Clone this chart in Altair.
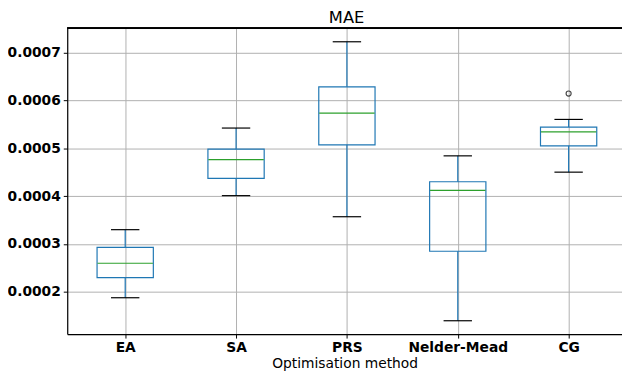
import altair as alt
import pandas as pd

methods = ["EA", "SA", "PRS", "Nelder-Mead", "CG"]
positions = [1, 2, 3, 4, 5]
whisker_low = [0.000188, 0.000401, 0.000357, 0.000140, 0.000450]
q1 = [0.000230, 0.000437, 0.000507, 0.000285, 0.000505]
median = [0.000260, 0.000476, 0.000573, 0.000412, 0.000534]
q3 = [0.000293, 0.000498, 0.000628, 0.000430, 0.000544]
whisker_high = [0.000330, 0.000542, 0.000722, 0.000484, 0.000560]
outlier_method = ["CG"]
outlier_value = [0.000614]
y_ticks = [0.0002, 0.0003, 0.0004, 0.0005, 0.0006, 0.0007]

df = pd.DataFrame({
    "method": methods, "pos": positions, "wlo": whisker_low, "q1": q1,
    "med": median, "q3": q3, "whi": whisker_high,
})
out_df = pd.DataFrame({"method": outlier_method, "value": outlier_value})
out_df["pos"] = out_df["method"].map(dict(zip(methods, positions)))

BLUE = "#1f77b4"
GREEN = "#2ca02c"
FONT = "DejaVu Sans"

label_expr = "{" + ",".join(f"'{p}':'{m}'" for p, m in zip(positions, methods)) + "}[datum.value]"

xscale = alt.Scale(domain=[0.5216, 5.437], nice=False, zero=False)
yscale = alt.Scale(domain=[0.0001121, 0.0007505], nice=False, zero=False)

xaxis = alt.Axis(values=positions, labelExpr=label_expr, title="Optimisation method",
                 grid=True, gridColor="#b0b0b0", gridWidth=1,
                 tickColor="black", tickSize=4, domainColor="black", domainWidth=1.2,
                 labelFont=FONT, labelFontSize=14, labelFontWeight="bold", labelColor="black",
                 labelPadding=3, titleFont=FONT, titleFontSize=14, titleFontWeight="normal",
                 titleColor="black", titlePadding=2, labelAngle=0)
yaxis = alt.Axis(values=y_ticks, format=".4f", title=None,
                 grid=True, gridColor="#b0b0b0", gridWidth=1,
                 tickColor="black", tickSize=4, domainColor="black", domainWidth=1.2,
                 labelFont=FONT, labelFontSize=14, labelFontWeight="bold", labelColor="black",
                 labelPadding=3)

base = alt.Chart(df).transform_calculate(
    blo="datum.pos - 0.25", bhi="datum.pos + 0.25",
    clo="datum.pos - 0.128", chi="datum.pos + 0.128",
)

X = alt.X("pos:Q", scale=xscale, axis=xaxis)

wl = base.mark_rule(color=BLUE, strokeWidth=1.2).encode(
    x=X, y=alt.Y("wlo:Q", scale=yscale, axis=yaxis), y2="q1:Q")
wh = base.mark_rule(color=BLUE, strokeWidth=1.2).encode(
    x=X, y=alt.Y("q3:Q", scale=yscale, axis=yaxis), y2="whi:Q")
box = base.mark_bar(size=57, fillOpacity=0, stroke=BLUE, strokeWidth=1.2).encode(
    x=X, y=alt.Y("q1:Q", scale=yscale, axis=yaxis), y2="q3:Q")
med = base.mark_rule(color=GREEN, strokeWidth=1.2).encode(
    x=alt.X("blo:Q", scale=xscale, axis=xaxis), x2="bhi:Q",
    y=alt.Y("med:Q", scale=yscale, axis=yaxis))
cap_lo = base.mark_rule(color="black", strokeWidth=1.2).encode(
    x=alt.X("clo:Q", scale=xscale, axis=xaxis), x2="chi:Q",
    y=alt.Y("wlo:Q", scale=yscale, axis=yaxis))
cap_hi = base.mark_rule(color="black", strokeWidth=1.2).encode(
    x=alt.X("clo:Q", scale=xscale, axis=xaxis), x2="chi:Q",
    y=alt.Y("whi:Q", scale=yscale, axis=yaxis))
outl = alt.Chart(out_df).mark_point(shape="circle", filled=False, size=26,
                                     color="black", strokeWidth=1.2).encode(
    x=alt.X("pos:Q", scale=xscale, axis=xaxis),
    y=alt.Y("value:Q", scale=yscale, axis=yaxis))
top_border = alt.Chart(df).mark_rule(color="black", strokeWidth=1.2).encode(
    x=alt.value(0), x2=alt.value(562), y=alt.value(0))

chart = alt.layer(wl, wh, box, med, cap_lo, cap_hi, outl, top_border).properties(
    width=562, height=310,
    title=alt.Title("MAE", font=FONT, fontSize=16.5, fontWeight="normal", color="black",
                    offset=1, dx=2),
    autosize=alt.AutoSizeParams(type="none"),
    padding={"left": 60, "top": 18, "right": 0, "bottom": 36},
).configure_view(stroke=None).configure(background="white")

chart.save("out.html", embed_options={"renderer": "svg", "actions": False})
